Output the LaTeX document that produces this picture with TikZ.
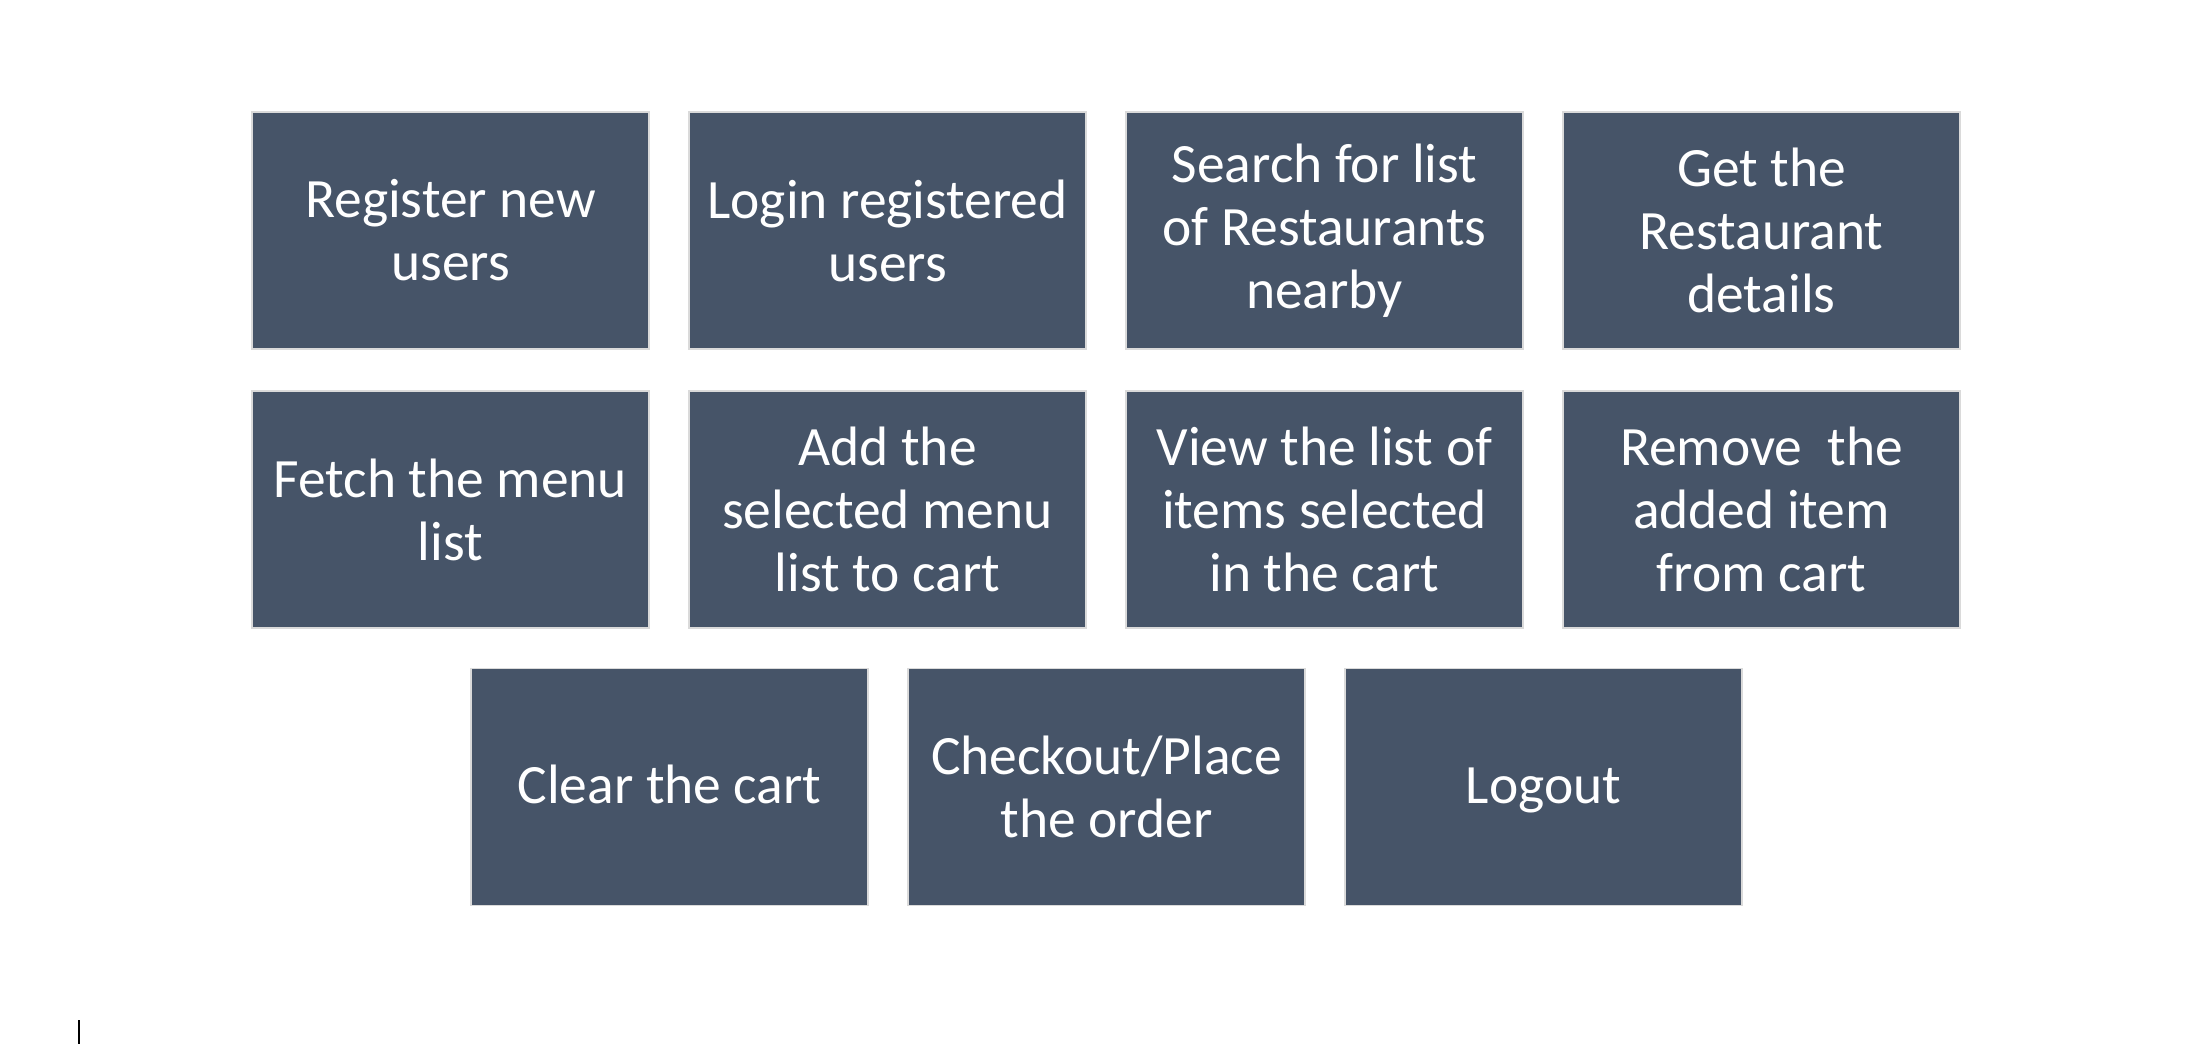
\documentclass[tikz,border=0pt]{standalone}
\usepackage{fontspec}
\setmainfont{Carlito}
\definecolor{boxfill}{HTML}{465468}
\definecolor{boxline}{HTML}{DADADA}
\newcommand\boxstrut{\rule[-14.9pt]{0pt}{63pt}}
\begin{document}
\begin{tikzpicture}[x=1pt,y=-1pt,
  box/.style={draw=boxline, line width=1.6pt, fill=boxfill,
    minimum width=397pt, minimum height=237pt, inner sep=0pt,
    text=white, align=center, font=\fontsize{55.5}{63}\selectfont},
  oneline/.style={box, execute at begin node=\boxstrut}]
\useasboundingbox (0,0) rectangle (2186,1044);
% row 1
\node[box] (n1) at (450.5,230.5) {Register new\\users};
\node[box] (n2) at (887.5,230.5) {Login registered\\users};
\node[box] (n3) at (1324.5,230.5) {Search for list\\of Restaurants\\nearby};
\node[box] (n4) at (1761.5,230.5) {Get the\\Restaurant\\details};
% row 2
\node[box] (n5) at (450.5,509.5) {Fetch the menu\\list};
\node[box] (n6) at (887.5,509.5) {Add the\\selected menu\\list to cart};
\node[box] (n7) at (1324.5,509.5) {View the list of\\items selected\\in the cart};
\node[box] (n8) at (1761.5,509.5) {Remove\ \ the\\added item\\from cart};
% row 3
\node[oneline] (n9) at (669.5,787) {Clear the cart};
\node[box] (n10) at (1106.5,787) {Checkout/Place\\the order};
\node[oneline] (n11) at (1543.5,787) {Logout};
% text cursor mark
\coordinate (c1) at (79,1020);
\coordinate (c2) at (79,1044);
\draw[line width=2pt] (c1) -- (c2);
\end{tikzpicture}
\end{document}
